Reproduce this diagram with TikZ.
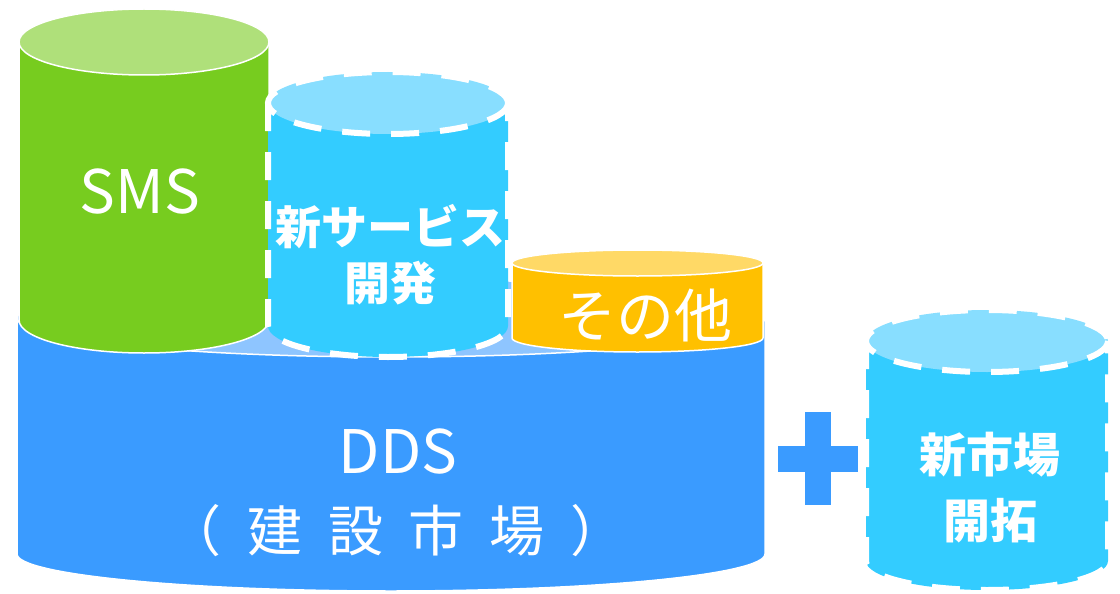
\documentclass[tikz,border=0pt]{standalone}
\usepackage{fontspec}
\setmainfont{Noto Sans CJK JP}
\definecolor{ddsside}{HTML}{3A9BFF}
\definecolor{ddstop}{HTML}{8EC5FF}
\definecolor{smsside}{HTML}{77CC1F}
\definecolor{smstop}{HTML}{AFE07A}
\definecolor{cyside}{HTML}{33CCFF}
\definecolor{cytop}{HTML}{88DEFF}
\definecolor{othside}{HTML}{FFC000}
\definecolor{othtop}{HTML}{FFD966}
\newcommand\mycyl[8]{%
  \path[#7] (#1-#2,#3) -- (#1-#2,#4) arc[start angle=180,end angle=0,x radius=#2,y radius=#6] -- (#1+#2,#3);
  \path[#8] (#1,#3) ellipse[x radius=#2,y radius=#5];
}
\newcommand\gapsp{\hspace{0.47em}}
\tikzset{
  solidline/.style={draw=white,line width=1.5pt},
  dashline/.style={draw=white,line width=6pt,dash pattern=on 28pt off 21pt},
  lbl/.style={text=white,inner sep=0pt,align=center},
}
\begin{document}
\begin{tikzpicture}[x=1pt,y=-1pt]
\useasboundingbox (0,0) rectangle (1120,594);
% DDS
\mycyl{391}{374}{318}{554}{39}{37}{fill=ddsside,solidline}{fill=ddstop,solidline}
% SMS
\mycyl{144}{125}{42}{320}{33}{33}{fill=smsside,solidline}{fill=smstop,solidline}
% new service
\mycyl{388}{120}{103}{326}{31}{31}{fill=cyside,dashline}{fill=cytop,dashline}
% other
\mycyl{637.5}{125.5}{263}{338}{13}{14}{fill=othside,solidline}{fill=othtop,solidline}
% new market
\mycyl{987}{121}{341}{561}{31}{29}{fill=cyside,dashline}{fill=cytop,dashline}
% plus
\fill[ddsside] (778,446) rectangle (858,472);
\fill[ddsside] (805,412) rectangle (831,505);
% labels
\node[lbl,font=\fontsize{60}{60}\selectfont] (sms) at (140,192) {SMS};
\node[lbl,font=\fontsize{46}{56}\selectfont\bfseries] (svc) at (390,255) {新サービス\\開発};
\node[lbl,font=\fontsize{58}{58}\selectfont] (oth) at (645,315) {その他};
\node[lbl,font=\fontsize{60}{60}\selectfont] (dds) at (398,452) {DDS};
\node[lbl,font=\fontsize{55}{55}\selectfont] (mkt) at (396,531) {（\gapsp 建\gapsp 設\gapsp 市\gapsp 場\gapsp ）};
\node[lbl,font=\fontsize{47}{66}\selectfont\bfseries] (nm) at (990,488) {新市場\\開拓};
\end{tikzpicture}
\end{document}
